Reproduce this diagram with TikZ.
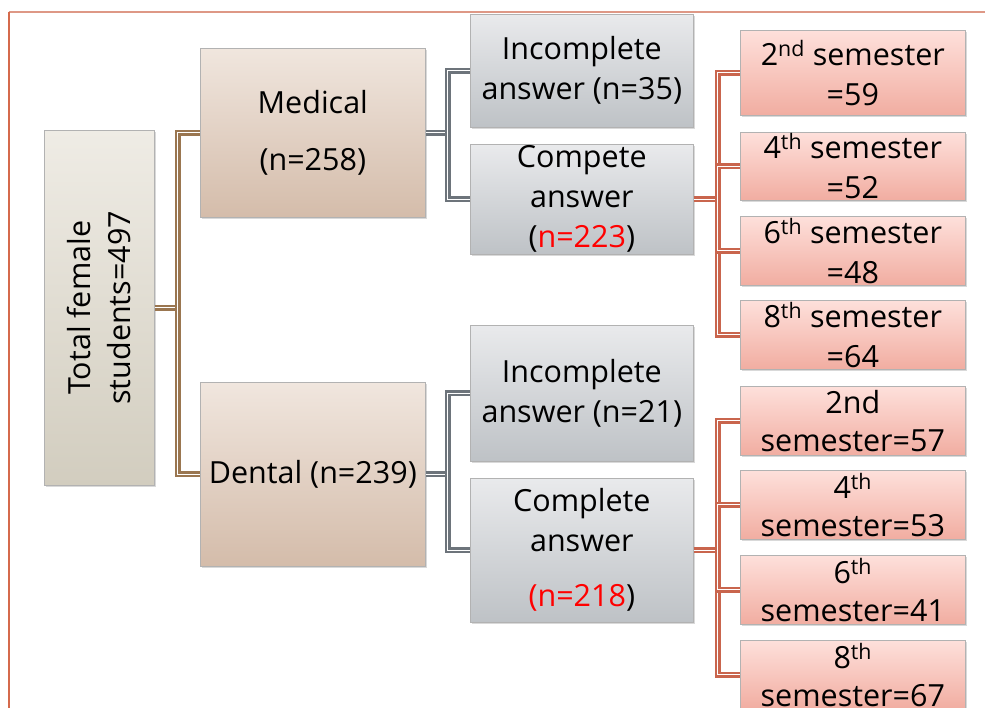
\documentclass[tikz,border=0pt]{standalone}
\usepackage{fontspec}
\setmainfont{Open Sans}
\usetikzlibrary{shadows}

\definecolor{framelft}{HTML}{D56A4C}
\definecolor{frametop}{HTML}{DE9886}
\definecolor{lnbrown}{HTML}{9A7650}
\definecolor{lngray}{HTML}{6D747B}
\definecolor{lnred}{HTML}{C9654D}
\definecolor{redtxt}{HTML}{FF0000}
\definecolor{rootTop}{HTML}{EFECE5}
\definecolor{rootBot}{HTML}{D2CDBF}
\definecolor{facTop}{HTML}{F0E6DE}
\definecolor{facBot}{HTML}{D4BCAA}
\definecolor{ansTop}{HTML}{E9EAEC}
\definecolor{ansBot}{HTML}{BEC2C6}
\definecolor{semTop}{HTML}{FEE0DB}
\definecolor{semBot}{HTML}{F1ADA1}

\newcommand\boxfont{\fontsize{30.5}{40}\selectfont}

\tikzset{
  box/.style={draw=black!30, line width=0.6pt, inner sep=0pt, align=center,
    font=\boxfont, anchor=north west,
    drop shadow={shadow xshift=2pt, shadow yshift=-2pt, opacity=0.3}},
  rootbox/.style={box, top color=rootTop, bottom color=rootBot},
  facbox/.style={box, top color=facTop, bottom color=facBot},
  ansbox/.style={box, top color=ansTop, bottom color=ansBot},
  sembox/.style={box, top color=semTop, bottom color=semBot,
    minimum width=225pt},
  link/.style={line width=2.4pt, double=white, double distance=1.1pt,
    line join=miter},
  brownlink/.style={link, draw=lnbrown},
  graylink/.style={link, draw=lngray},
  redlink/.style={link, draw=lnred},
}

\begin{document}
\begin{tikzpicture}[x=1pt, y=-1pt]
\useasboundingbox (0,0) rectangle (985,708);

% page frame
\draw[frametop, line width=1.3pt] (8.5,12) -- (985,12);
\draw[framelft, line width=1.3pt] (9,12) -- (9,708);

% root
\node[rootbox, minimum width=110pt, minimum height=355pt] (tot) at (44,130) {};
\node[rotate=90, font=\boxfont, align=center] at (tot.center) {Total female\\students=497};

% faculties
\node[facbox, minimum width=225pt, minimum height=169pt] (med) at (200,48)
  {Medical\\[17pt](n=258)};
\node[facbox, minimum width=225pt, minimum height=184pt] (den) at (200,382)
  {Dental (n=239)};

% answers, medical
\node[ansbox, minimum width=223pt, minimum height=113pt] (minc) at (470,14)
  {Incomplete\\answer (n=35)};
\node[ansbox, minimum width=223pt, minimum height=110pt] (mcom) at (470,144)
  {Compete\\answer\\({\color{redtxt}n=223})};

% answers, dental
\node[ansbox, minimum width=223pt, minimum height=136pt] (dinc) at (470,325)
  {Incomplete\\answer (n=21)};
\node[ansbox, minimum width=223pt, minimum height=144pt] (dcom) at (470,478)
  {Complete\\answer\\[15pt]{\color{redtxt}(n=218})};

% semesters, medical
\node[sembox, minimum height=85pt] (m2) at (740,30) {2\textsuperscript{nd} semester\\=59};
\node[sembox, minimum height=68pt] (m4) at (740,132) {4\textsuperscript{th} semester\\=52};
\node[sembox, minimum height=69pt] (m6) at (740,216) {6\textsuperscript{th} semester\\=48};
\node[sembox, minimum height=69pt] (m8) at (740,300) {8\textsuperscript{th} semester\\=64};

% semesters, dental
\tikzset{dsem/.style={sembox, minimum height=69pt, font=\fontsize{30.5}{38}\selectfont}}
\node[dsem] (d2) at (740,386) {2nd\\semester=57};
\node[dsem] (d4) at (740,470) {4\textsuperscript{th}\\semester=53};
\node[dsem] (d6) at (740,555) {6\textsuperscript{th}\\semester=41};
\node[dsem] (d8) at (740,640) {8\textsuperscript{th}\\semester=67};

% root to faculties
\draw[brownlink] (tot.east) -- ++(23,0) coordinate (j0);
\draw[brownlink] (med.west) -| (j0) |- (den.west);

% faculties to answers
\draw[graylink] (med.east) -- ++(22,0) coordinate (j1);
\draw[graylink] (minc.west) -| (j1) |- (mcom.west);
\draw[graylink] (den.east) -- ++(22,0) coordinate (j2);
\draw[graylink] (dinc.west) -| (j2) |- (dcom.west);

% complete answers to semesters
\draw[redlink] (mcom.east) -- ++(24,0) coordinate (j3);
\draw[redlink] (m2.west) -| (j3) |- (m8.west);
\draw[redlink] (j3) |- (m4.west);
\draw[redlink] (j3) |- (m6.west);
\draw[redlink] (dcom.east) -- ++(24,0) coordinate (j4);
\draw[redlink] (d2.west) -| (j4) |- (d8.west);
\draw[redlink] (j4) |- (d4.west);
\draw[redlink] (j4) |- (d6.west);
\end{tikzpicture}
\end{document}
